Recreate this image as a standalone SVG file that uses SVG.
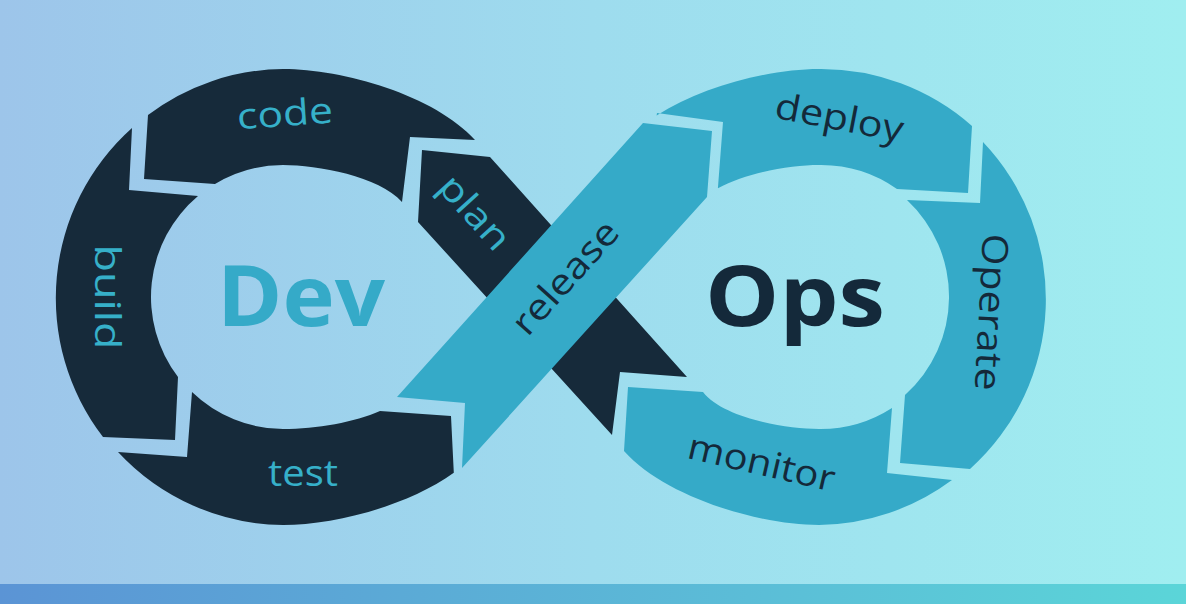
<svg xmlns="http://www.w3.org/2000/svg" width="1186" height="604" viewBox="0 0 1186 604">
  <defs>
    <linearGradient id="bg" x1="0" y1="0" x2="1186" y2="0" gradientUnits="userSpaceOnUse">
      <stop offset="0" stop-color="#9dc5ea"/>
      <stop offset="0.5" stop-color="#9edcee"/>
      <stop offset="1" stop-color="#a0eef0"/>
    </linearGradient>
    <linearGradient id="strip" x1="0" y1="0" x2="1186" y2="0" gradientUnits="userSpaceOnUse">
      <stop offset="0" stop-color="#5b94d5"/>
      <stop offset="1" stop-color="#5bd5d8"/>
    </linearGradient>
    <style>
      .dark { fill: #162a3a; }
      .teal { fill: #35aac8; }
      .lbl { font-family: "Open Sans", "DejaVu Sans", sans-serif; font-size: 36px; font-weight: 400; text-anchor: middle; }
      .onDark { fill: #36b0c9; }
      .onTeal { fill: #14293a; }
      .big { font-family: "Open Sans", "DejaVu Sans", sans-serif; font-size: 84px; font-weight: 700; text-anchor: middle; }
    </style>
  </defs>
  <rect x="0" y="0" width="1186" height="604" fill="url(#bg)"/>
  <rect x="0" y="584" width="1186" height="20" fill="url(#strip)"/>

  <g id="plan">
    <path class="dark" d="M422,150 L490,157 L687,377 L620,372 L612,435 L418,222 Z"/>
    <text class="lbl onDark" transform="translate(473,214) rotate(48)" x="0" y="10" textLength="88" lengthAdjust="spacingAndGlyphs">plan</text>
  </g>
  <g id="code">
    <path class="dark" d="M475,140 C435,95.4 343,69 283,69 A228,228 0 0,0 148,115 L144,179 L215,184 A132,132 0 0,1 283,165 C317.6,165 378.9,176.3 402,202 L410,137 Z"/>
    <text class="lbl onDark" transform="translate(285,116) rotate(-4)" x="0" y="10" textLength="96" lengthAdjust="spacingAndGlyphs">code</text>
  </g>
  <g id="build">
    <path class="dark" d="M132,128 L129,190 L198,196 A132,132 0 0,0 178,377 L175,440 L103,437 A228,228 0 0,1 132,128 Z"/>
    <text class="lbl onDark" transform="translate(105,297) rotate(90)" x="0" y="10" textLength="105" lengthAdjust="spacingAndGlyphs">build</text>
  </g>
  <g id="test">
    <path class="dark" d="M118,452 L187,457 L192,392 A132,132 0 0,0 283,429 C317,429 355,422 380,411 L451,416 L453.8,472.8 C408.1,505.9 334,525 283,525 A228,228 0 0,1 118,452 Z"/>
    <text class="lbl onDark" transform="translate(303,476)" x="0" y="10" textLength="70" lengthAdjust="spacingAndGlyphs">test</text>
  </g>
  <g id="release">
    <path class="teal" d="M397,397 L643,123 L712,131 L707,197 L462,468 L465,403 Z"/>
    <text class="lbl onTeal" transform="translate(567,279) rotate(-48)" x="0" y="10" textLength="140" lengthAdjust="spacingAndGlyphs">release</text>
  </g>
  <g id="deploy">
    <path class="teal" d="M657,113 L723,122 L717.9,188.3 C746.6,172.2 791.3,165 819,165 A132,132 0 0,1 897,189 L968,193 L972,126 A228,228 0 0,0 819,69 C771,69 702.5,85.9 656.6,115.5 Z"/>
    <text class="lbl onTeal" transform="translate(839,120) rotate(11)" x="0" y="10" textLength="130" lengthAdjust="spacingAndGlyphs">deploy</text>
  </g>
  <g id="operate">
    <path class="teal" d="M983,142 L980,203 L907,200 A132,132 0 0,1 905,395 L900,463 L970,469 A228,228 0 0,0 983,142 Z"/>
    <text class="lbl onTeal" transform="translate(989,312) rotate(93)" x="0" y="10" textLength="157" lengthAdjust="spacingAndGlyphs">Operate</text>
  </g>
  <g id="monitor">
    <path class="teal" d="M952,480 L887,473 L892,408 A132,132 0 0,1 819,429 C784.4,429 723.1,417.7 703,392 L628,387 L624,451 C665,497 759,525 819,525 A228,228 0 0,0 952,480 Z"/>
    <text class="lbl onTeal" transform="translate(761,465) rotate(13)" x="0" y="10" textLength="150" lengthAdjust="spacingAndGlyphs">monitor</text>
  </g>
  <g id="dev">
    <text class="big" x="301" y="326" fill="#35aac8" textLength="168" lengthAdjust="spacingAndGlyphs">Dev</text>
  </g>
  <g id="ops">
    <text class="big" x="795" y="326" fill="#14293a" textLength="180" lengthAdjust="spacingAndGlyphs">Ops</text>
  </g>
  <g id="connectors"></g>
</svg>
